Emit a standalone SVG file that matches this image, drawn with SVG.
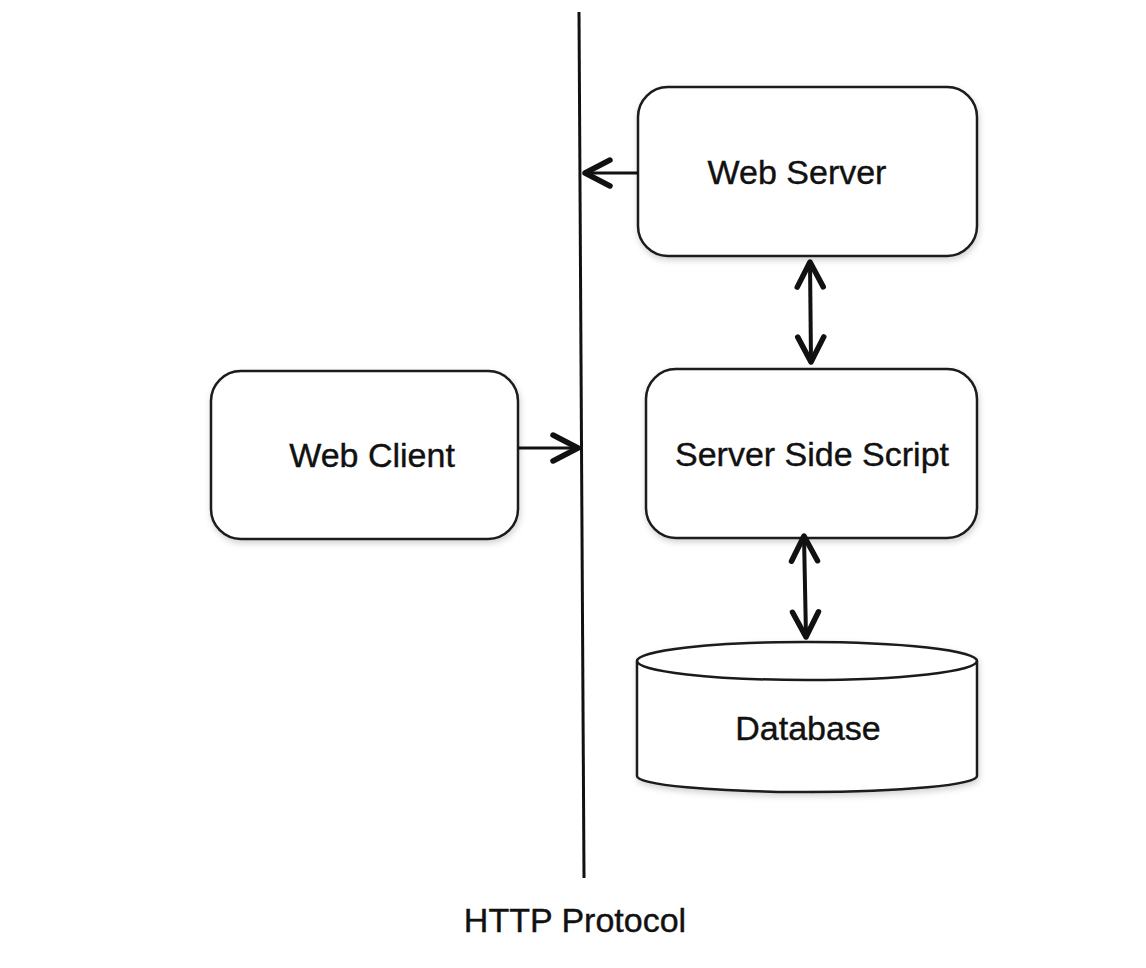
<svg xmlns="http://www.w3.org/2000/svg" width="1146" height="968" viewBox="0 0 1146 968">
<style>
.box{fill:#fff;stroke:#1a1a1a;stroke-width:2.5;filter:url(#sh)}
.lbl{font-family:"Liberation Sans","Open Sans",sans-serif;font-size:34px;fill:#111;text-anchor:middle;stroke:#111;stroke-width:0.4}
.con{fill:none;stroke:#111;stroke-width:3}
.dbl{fill:none;stroke:#111;stroke-width:4}
</style>
<defs>
<filter id="sh" x="-10%" y="-10%" width="120%" height="130%">
<feDropShadow dx="1" dy="3" stdDeviation="3" flood-color="#000" flood-opacity="0.18"/>
</filter>
<marker id="ah" markerUnits="userSpaceOnUse" viewBox="-32 -18 36 36" markerWidth="36" markerHeight="36" refX="0" refY="0" orient="auto-start-reverse">
<path d="M -25,-13 L 0,0 L -25,13" fill="none" stroke="#111" stroke-width="5.5" stroke-linecap="round" stroke-linejoin="round"/>
</marker>
</defs>
<rect width="1146" height="968" fill="#fff"/>
<g id="http-line">
<line x1="579" y1="12" x2="584" y2="878" stroke="#111" stroke-width="3"/>
<text class="lbl" x="575" y="932">HTTP Protocol</text>
</g>
<g id="web-server">
<rect class="box" x="638" y="87" width="339" height="169" rx="30"/>
<text class="lbl" x="797" y="184">Web Server</text>
</g>
<g id="web-client">
<rect class="box" x="211" y="371" width="307" height="168" rx="30"/>
<text class="lbl" x="372" y="467">Web Client</text>
</g>
<g id="server-side-script">
<rect class="box" x="646" y="369" width="331" height="169" rx="30"/>
<text class="lbl" x="812" y="466">Server Side Script</text>
</g>
<g id="database">
<path class="box" d="M 637,661 L 637,776 A 170,16 0 0 0 977,776 L 977,661 A 170,19 0 0 0 637,661 Z"/>
<path d="M 637,661 A 170,19 0 0 0 977,661" fill="none" stroke="#1a1a1a" stroke-width="2.5"/>
<text class="lbl" x="808" y="740">Database</text>
</g>
<g id="connectors">
<line class="con" x1="638" y1="173" x2="585" y2="173" marker-end="url(#ah)"/>
<line class="con" x1="518" y1="448" x2="578" y2="448" marker-end="url(#ah)"/>
<line class="dbl" x1="810" y1="262" x2="811" y2="362" marker-start="url(#ah)" marker-end="url(#ah)"/>
<line class="dbl" x1="804" y1="536" x2="806" y2="637" marker-start="url(#ah)" marker-end="url(#ah)"/>
</g>
</svg>
